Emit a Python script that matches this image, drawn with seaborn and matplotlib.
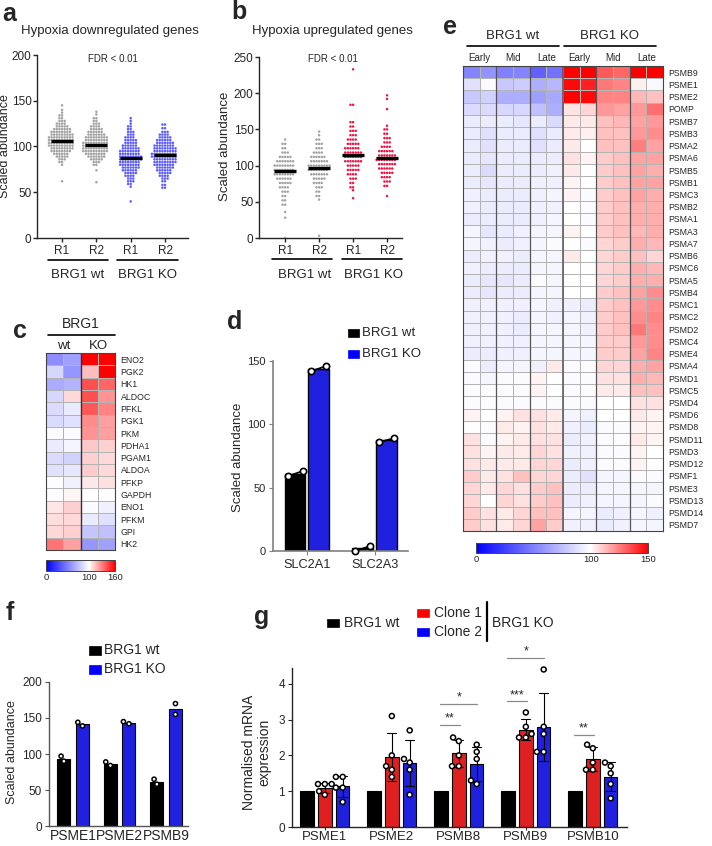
import numpy as np
import pandas as pd
import seaborn as sns
import matplotlib.pyplot as plt
from matplotlib.colors import LinearSegmentedColormap
from matplotlib.lines import Line2D
from matplotlib.patches import Rectangle

sns.set_style('ticks')
plt.rcParams['font.family'] = ['Liberation Sans', 'DejaVu Sans']
plt.rcParams['axes.linewidth'] = 1.0

# ---------------- data ----------------
rep_order = ['wt R1', 'wt R2', 'KO R1', 'KO R2']
rep_ticks = ['R1', 'R2', 'R1', 'R2']

# a: hypoxia downregulated genes (abundance level -> number of genes)
a_wt1_lv = [62, 80, 83, 86, 89, 92, 95, 98, 101, 104, 107, 110, 113, 116, 119, 122, 125, 128, 131, 134, 137, 140, 145]
a_wt1_n = [1, 1, 2, 3, 5, 6, 8, 9, 10, 10, 10, 10, 9, 8, 7, 5, 4, 3, 2, 2, 1, 1, 1]
a_wt2_lv = [61, 74, 80, 83, 86, 89, 92, 95, 98, 101, 104, 107, 110, 113, 116, 119, 122, 125, 128, 131, 135, 138]
a_wt2_n = [1, 1, 2, 3, 5, 7, 8, 10, 10, 10, 10, 9, 9, 7, 6, 5, 4, 3, 2, 2, 1, 1]
a_ko1_lv = [40, 56, 59, 62, 65, 68, 71, 74, 77, 80, 83, 86, 89, 92, 95, 98, 101, 104, 107, 110, 113, 116, 119, 122, 125, 128, 131]
a_ko1_n = [1, 1, 2, 3, 3, 4, 5, 6, 7, 8, 8, 9, 9, 8, 8, 7, 6, 5, 5, 4, 3, 3, 2, 2, 1, 1, 1]
a_ko2_lv = [55, 58, 62, 65, 68, 71, 74, 77, 80, 83, 86, 89, 92, 95, 98, 101, 104, 107, 110, 113, 116, 120, 124]
a_ko2_n = [2, 2, 2, 3, 4, 5, 6, 7, 8, 9, 9, 10, 10, 9, 9, 8, 7, 6, 5, 4, 3, 2, 2]
a_means = [106, 102, 87, 91]

# b: hypoxia upregulated genes
b_wt1_lv = [0, 28, 36, 46, 52, 58, 64, 70, 76, 82, 88, 94, 100, 106, 112, 118, 124, 130, 136]
b_wt1_n = [1, 1, 1, 2, 2, 2, 3, 4, 5, 6, 8, 8, 8, 7, 5, 3, 2, 2, 1]
b_wt2_lv = [3, 53, 58, 64, 70, 76, 82, 88, 94, 100, 106, 112, 118, 124, 130, 136, 142, 147]
b_wt2_n = [1, 1, 2, 2, 3, 4, 5, 7, 8, 9, 7, 6, 4, 3, 3, 2, 1, 1]
b_ko1_lv = [55, 66, 70, 76, 82, 88, 94, 100, 106, 112, 118, 124, 130, 136, 142, 148, 154, 160, 184, 233]
b_ko1_n = [1, 1, 2, 2, 3, 4, 5, 5, 7, 7, 7, 6, 5, 4, 3, 3, 2, 2, 2, 1]
b_ko2_lv = [58, 72, 78, 84, 90, 96, 102, 108, 114, 120, 126, 132, 138, 144, 150, 155, 178, 192, 197]
b_ko2_n = [1, 2, 3, 4, 5, 6, 7, 8, 7, 6, 4, 3, 3, 2, 2, 1, 1, 1, 1]
b_means = [92, 96, 114, 110]

# c: glycolysis heatmap (wt, wt, KO, KO)
c_genes = ['ENO2', 'PGK2', 'HK1', 'ALDOC', 'PFKL', 'PGK1', 'PKM', 'PDHA1', 'PGAM1',
           'ALDOA', 'PFKP', 'GAPDH', 'ENO1', 'PFKM', 'GPI', 'HK2']
c_vals = [[55, 63, 160, 160], [84, 59, 115, 160], [67, 70, 141, 136], [84, 109, 141, 125],
          [86, 92, 139, 129], [86, 88, 127, 122], [98, 98, 125, 122], [92, 96, 113, 111],
          [86, 82, 111, 109], [88, 90, 112, 109], [99, 94, 105, 107], [99, 102, 100, 100],
          [106, 111, 98, 94], [108, 109, 92, 88], [109, 111, 78, 75], [132, 122, 59, 63]]

# d: SLC2A1 / SLC2A3
d_genes = ['SLC2A1', 'SLC2A3']
d_wt = [[59, 63], [0, 4]]
d_ko = [[142, 146], [86, 89]]

# e: proteasome heatmap (wt Early/Mid/Late x2, KO Early/Mid/Late x2)
e_genes = ['PSMB9', 'PSME1', 'PSME2', 'POMP', 'PSMB7', 'PSMB3', 'PSMA2', 'PSMA6', 'PSMB5', 'PSMB1',
           'PSMC3', 'PSMB2', 'PSMA1', 'PSMA3', 'PSMA7', 'PSMB6', 'PSMC6', 'PSMA5', 'PSMB4', 'PSMC1',
           'PSMC2', 'PSMD2', 'PSMC4', 'PSME4', 'PSMA4', 'PSMD1', 'PSMC5', 'PSMD4', 'PSMD6', 'PSMD8',
           'PSMD11', 'PSMD3', 'PSMD12', 'PSMF1', 'PSME3', 'PSMD13', 'PSMD14', 'PSMD7']
e_vals = [
    [52, 58, 50, 52, 38, 45, 150, 150, 132, 130, 150, 150],
    [88, 98, 78, 80, 68, 72, 148, 143, 126, 124, 103, 97],
    [78, 82, 68, 68, 62, 66, 150, 148, 124, 124, 114, 112],
    [86, 86, 84, 84, 75, 68, 105, 108, 120, 118, 120, 128],
    [92, 92, 92, 90, 92, 86, 104, 104, 112, 114, 118, 120],
    [92, 88, 92, 92, 88, 92, 104, 103, 112, 112, 120, 122],
    [92, 88, 92, 92, 88, 92, 104, 100, 112, 112, 125, 118],
    [92, 90, 92, 92, 92, 92, 106, 102, 110, 112, 118, 118],
    [92, 86, 92, 92, 92, 94, 104, 100, 110, 112, 118, 116],
    [92, 90, 92, 92, 94, 94, 102, 100, 110, 112, 118, 118],
    [94, 92, 92, 92, 94, 96, 102, 98, 110, 112, 118, 116],
    [94, 92, 92, 92, 94, 94, 100, 98, 110, 112, 116, 116],
    [92, 92, 92, 92, 94, 96, 100, 98, 110, 112, 116, 116],
    [96, 90, 92, 94, 96, 96, 102, 100, 110, 112, 114, 116],
    [96, 94, 92, 94, 96, 98, 100, 98, 108, 110, 116, 114],
    [92, 94, 94, 92, 96, 96, 104, 100, 108, 110, 112, 108],
    [94, 92, 92, 92, 96, 96, 100, 100, 108, 110, 116, 114],
    [92, 90, 90, 92, 98, 96, 100, 100, 108, 110, 116, 116],
    [92, 90, 92, 92, 96, 96, 100, 100, 110, 112, 118, 122],
    [94, 94, 94, 94, 96, 94, 94, 92, 110, 112, 120, 122],
    [94, 94, 94, 92, 96, 94, 96, 94, 110, 112, 122, 124],
    [94, 94, 94, 92, 96, 96, 96, 94, 110, 112, 126, 122],
    [94, 94, 94, 94, 96, 96, 96, 96, 110, 110, 120, 122],
    [92, 92, 94, 94, 96, 96, 96, 96, 110, 110, 118, 124],
    [98, 92, 96, 96, 94, 104, 98, 98, 108, 108, 116, 118],
    [98, 96, 98, 98, 102, 100, 98, 98, 106, 106, 116, 114],
    [98, 98, 98, 98, 102, 100, 98, 98, 104, 104, 112, 112],
    [98, 98, 98, 98, 98, 98, 98, 98, 100, 100, 106, 106],
    [102, 100, 102, 106, 106, 104, 96, 94, 100, 100, 104, 102],
    [100, 98, 104, 102, 106, 104, 94, 92, 98, 98, 102, 102],
    [106, 98, 102, 104, 106, 106, 92, 94, 98, 98, 104, 102],
    [106, 102, 104, 104, 108, 106, 94, 94, 98, 98, 102, 100],
    [106, 104, 104, 104, 108, 108, 92, 94, 98, 98, 102, 100],
    [110, 104, 106, 112, 108, 108, 92, 88, 96, 96, 98, 98],
    [108, 104, 108, 106, 110, 112, 92, 92, 96, 96, 96, 96],
    [108, 100, 108, 106, 110, 112, 92, 94, 96, 96, 96, 98],
    [110, 106, 104, 108, 112, 112, 96, 96, 92, 94, 96, 94],
    [110, 106, 104, 108, 118, 110, 94, 94, 92, 94, 96, 96],
]

# f: immunoproteasome proteins
f_genes = ['PSME1', 'PSME2', 'PSMB9']
f_wt = [[97, 90], [84, 89], [65, 58]]
f_ko = [[139, 144], [142, 145], [170, 155]]

# g: qPCR
g_genes = ['PSME1', 'PSME2', 'PSMB8', 'PSMB9', 'PSMB10']
g_wt = [1.0, 1.0, 1.0, 1.0, 1.0]
g_clone1 = [[1.2, 1.2, 1.2, 1.0, 0.9], [3.1, 2.0, 1.7, 1.6, 1.4], [2.5, 2.4, 2.0, 1.7, 1.7],
            [3.2, 2.8, 2.6, 2.5, 2.5], [2.3, 2.2, 1.8, 1.6, 1.6]]
g_clone2 = [[1.4, 1.4, 1.1, 1.1, 0.7], [2.7, 1.9, 1.8, 1.6, 0.9], [2.3, 2.1, 1.9, 1.3, 1.2],
            [4.4, 2.8, 2.6, 2.1, 2.1], [1.8, 1.7, 1.5, 1.2, 0.8]]
g_sig_gene = [2, 2, 3, 3, 4]
g_sig_clone = [1, 2, 1, 2, 1]
g_sig_y = [2.86, 3.44, 3.52, 4.73, 2.58]
g_sig_lab = ['**', '*', '***', '*', '**']

groups2 = ['BRG1 wt', 'BRG1 KO']
groups3 = ['BRG1 wt', 'Clone 1', 'Clone 2']
GRAY, LBLUE, CRIMSON = '#a3a3a3', '#5b5bff', '#ee1446'

# ---------------- layout helpers (pixel coords, top-left origin) ----------------
W, H = 712, 846
fig = plt.figure(figsize=(W / 100, H / 100), dpi=100)


def add_ax(l, t, r, b):
    return fig.add_axes([l / W, 1 - b / H, (r - l) / W, (b - t) / H])


def ftext(x, y, s, size=9.5, ha='center', **kw):
    fig.text(x / W, 1 - y / H, s, fontsize=size, ha=ha, va='center', **kw)


def fline(xs, ys, color='black', lw=1.2):
    fig.add_artist(Line2D([x / W for x in xs], [1 - y / H for y in ys], color=color, lw=lw))


def fsquare(x, y, color, w=12, h=8):
    fig.add_artist(Rectangle(((x - w / 2) / W, 1 - (y + h / 2) / H), w / W, h / H,
                             facecolor=color, edgecolor=color, lw=0.5))


def swarm_frame(levels, counts):
    parts = [pd.DataFrame({'rep': r, 'value': np.repeat(lv, n)})
             for r, lv, n in zip(rep_order, levels, counts)]
    return pd.concat(parts, ignore_index=True)


def swarm_panel(ax, df, colors, means, ymax, xlim):
    sns.swarmplot(data=df, x='rep', y='value', hue='rep', order=rep_order, hue_order=rep_order,
                  palette=dict(zip(rep_order, colors)), size=1.8, linewidth=0, legend=False,
                  warn_thresh=1, ax=ax)
    ax.hlines(means, np.arange(4) - 0.32, np.arange(4) + 0.32, color='black', lw=2.4, zorder=5)
    ax.set_ylim(0, ymax)
    ax.set_yticks(np.arange(0, ymax + 1, 50))
    ax.set_xlim(*xlim)
    ax.set_xticks(range(4))
    ax.set_xticklabels(rep_ticks)
    ax.set_xlabel('')
    ax.set_ylabel('')
    ax.tick_params(axis='y', labelsize=8.5, length=3, width=1, pad=1)
    ax.tick_params(axis='x', labelsize=8.5, length=3, width=1, pad=2)
    sns.despine(ax=ax)


def long_frame(genes, named_reps):
    rows = []
    for i, g in enumerate(genes):
        for grp, reps in named_reps:
            vals = reps[i] if np.ndim(reps[i]) else [reps[i]]
            rows += [(g, grp, v) for v in vals]
    return pd.DataFrame(rows, columns=['gene', 'group', 'value'])


def heat_panel(ax, cax, vals, genes, vmax, ticks):
    cmap = LinearSegmentedColormap.from_list('bwr_', [(0, 'blue'), (100 / vmax, 'white'), (1, 'red')])
    sns.heatmap(pd.DataFrame(vals, index=genes), ax=ax, cmap=cmap, vmin=0, vmax=vmax,
                linewidths=0.4, linecolor='#b4b4b4', xticklabels=False, yticklabels=genes,
                cbar_ax=cax, cbar_kws={'orientation': 'horizontal', 'ticks': ticks})
    ax.yaxis.tick_right()
    ax.tick_params(axis='y', length=0, labelsize=6.3, pad=4, labelrotation=0)
    for s in ax.spines.values():
        s.set_visible(True)
        s.set_color('#444444')
        s.set_linewidth(0.8)
    cb = ax.collections[0].colorbar
    cb.outline.set_linewidth(0.7)
    cb.outline.set_edgecolor('#444444')
    cax.tick_params(labelsize=6.8, length=0, pad=1.5)


# ---------------- a ----------------
ax_a = add_ax(37, 55, 188, 238)
df_a = swarm_frame([a_wt1_lv, a_wt2_lv, a_ko1_lv, a_ko2_lv], [a_wt1_n, a_wt2_n, a_ko1_n, a_ko2_n])
swarm_panel(ax_a, df_a, [GRAY, GRAY, LBLUE, LBLUE], a_means, 200, (-0.73, 3.67))
ftext(9, 14, 'a', size=18, weight='bold')
ftext(110, 31, 'Hypoxia downregulated genes', size=9.5)
ftext(113, 59, 'FDR < 0.01', size=7)
ftext(5.5, 146, 'Scaled abundance', size=9, rotation=90)
fline([48, 108], [260, 260])
fline([117, 178], [260, 260])
ftext(78, 275, 'BRG1 wt', size=9.5)
ftext(148, 275, 'BRG1 KO', size=9.5)

# ---------------- b ----------------
ax_b = add_ax(259, 57, 402, 238)
df_b = swarm_frame([b_wt1_lv, b_wt2_lv, b_ko1_lv, b_ko2_lv], [b_wt1_n, b_wt2_n, b_ko1_n, b_ko2_n])
swarm_panel(ax_b, df_b, [GRAY, GRAY, CRIMSON, CRIMSON], b_means, 250, (-0.77, 3.44))
ftext(239, 12, 'b', size=18, weight='bold')
ftext(332, 31, 'Hypoxia upregulated genes', size=9.5)
ftext(333, 59, 'FDR < 0.01', size=7)
ftext(225, 146, 'Scaled abundance', size=9.5, rotation=90)
fline([272, 332], [259, 259])
fline([342, 402], [259, 259])
ftext(305, 275, 'BRG1 wt', size=9.5)
ftext(374, 275, 'BRG1 KO', size=9.5)

# ---------------- c ----------------
ax_c = add_ax(46, 353, 115, 550)
cax_c = add_ax(46, 560, 115, 571)
heat_panel(ax_c, cax_c, c_vals, c_genes, 160, [0, 100, 160])
ax_c.axvline(2, color='#333333', lw=1.0)
ftext(20, 331, 'c', size=18, weight='bold')
ftext(81, 324, 'BRG1', size=10)
fline([48, 115], [335, 335])
ftext(64, 346, 'wt', size=9.5)
ftext(98, 346, 'KO', size=9.5)

# ---------------- d ----------------
ax_d = add_ax(273, 361, 408, 551)
df_d = long_frame(d_genes, [('BRG1 wt', d_wt), ('BRG1 KO', d_ko)])
sns.barplot(data=df_d, x='gene', y='value', hue='group', hue_order=groups2,
            palette={'BRG1 wt': 'black', 'BRG1 KO': 'blue'}, errorbar=None, width=0.7, gap=0.12,
            edgecolor='black', linewidth=1, legend=False, ax=ax_d)
for i, (w, k) in enumerate(zip(d_wt, d_ko)):
    for off, reps in ((-0.175, w), (0.175, k)):
        ax_d.plot([i + off - 0.11, i + off + 0.11], reps, color='black', lw=1.3, marker='o', ms=4.5,
                  mfc='white', mec='black', mew=1.2, zorder=5, clip_on=False)
ax_d.set_ylim(0, 150)
ax_d.set_yticks([0, 50, 100, 150])
ax_d.set_xlim(-0.5, 1.49)
ax_d.set_xlabel('')
ax_d.set_ylabel('')
sns.despine(ax=ax_d)
for s in ('left', 'bottom'):
    ax_d.spines[s].set_color('#808080')
    ax_d.spines[s].set_linewidth(1.2)
ax_d.tick_params(axis='y', labelsize=8, length=3, color='#808080', pad=2)
ax_d.tick_params(axis='x', labelsize=9.2, length=3, color='#808080', pad=3)
ftext(235, 322, 'd', size=18, weight='bold')
ftext(238, 457, 'Scaled abundance', size=9.5, rotation=90)
fsquare(353, 333, 'black', 11, 8)
fsquare(353, 354, 'blue', 11, 8)
ftext(362, 333, 'BRG1 wt', size=9.5, ha='left')
ftext(362, 354, 'BRG1 KO', size=9.5, ha='left')

# ---------------- e ----------------
ax_e = add_ax(463, 66, 663, 531)
cax_e = add_ax(476, 543, 648, 553)
heat_panel(ax_e, cax_e, e_vals, e_genes, 150, [0, 100, 150])
for xv in (2, 4, 8, 10):
    ax_e.axvline(xv, color='#555555', lw=0.9)
ax_e.axvline(6, color='#555555', lw=1.1)
ftext(450, 27, 'e', size=18, weight='bold')
ftext(513, 36, 'BRG1 wt', size=9.5)
ftext(610, 36, 'BRG1 KO', size=9.5)
fline([467, 559], [46, 46])
fline([564, 656], [46, 46])
for j, lab in enumerate(['Early', 'Mid', 'Late'] * 2):
    ftext(463 + 200 / 6 * (j + 0.5), 58, lab, size=7)

# ---------------- f ----------------
ax_f = add_ax(49, 682, 188, 826)
df_f = long_frame(f_genes, [('BRG1 wt', f_wt), ('BRG1 KO', f_ko)])
sns.barplot(data=df_f, x='gene', y='value', hue='group', hue_order=groups2,
            palette={'BRG1 wt': 'black', 'BRG1 KO': 'blue'}, errorbar=None, width=0.8, gap=0.3,
            edgecolor='black', linewidth=0.8, legend=False, ax=ax_f)
sns.swarmplot(data=df_f, x='gene', y='value', hue='group', hue_order=groups2, dodge=True,
              palette={g: 'white' for g in groups2}, edgecolor='black', linewidth=1.1, size=3.0,
              legend=False, ax=ax_f)
ax_f.set_ylim(0, 200)
ax_f.set_yticks([0, 50, 100, 150, 200])
ax_f.set_xlim(-0.52, 2.47)
ax_f.set_xlabel('')
ax_f.set_ylabel('')
sns.despine(ax=ax_f)
for s in ('left', 'bottom'):
    ax_f.spines[s].set_color('#555555')
ax_f.tick_params(axis='y', labelsize=8.5, length=3, color='#555555', pad=2)
ax_f.tick_params(axis='x', labelsize=10, length=0, pad=2)
ftext(10, 613, 'f', size=18, weight='bold')
ftext(12, 752, 'Scaled abundance', size=9, rotation=90)
fsquare(95, 650, 'black', 12, 9)
fsquare(95, 669, 'blue', 12, 9)
ftext(104, 650, 'BRG1 wt', size=10, ha='left')
ftext(104, 669, 'BRG1 KO', size=10, ha='left')

# ---------------- g ----------------
ax_g = add_ax(292, 648, 627, 827)
df_g = long_frame(g_genes, [('BRG1 wt', g_wt), ('Clone 1', g_clone1), ('Clone 2', g_clone2)])
pal3 = {'BRG1 wt': 'black', 'Clone 1': 'red', 'Clone 2': 'blue'}
sns.barplot(data=df_g, x='gene', y='value', hue='group', hue_order=groups3, order=g_genes,
            palette=pal3, errorbar='sd', capsize=0.4, err_kws={'color': 'black', 'linewidth': 0.8},
            width=0.8, gap=0.25, edgecolor='black', linewidth=0.8, legend=False, ax=ax_g)
sns.swarmplot(data=df_g[df_g['group'] != 'BRG1 wt'], x='gene', y='value', hue='group',
              hue_order=groups3, order=g_genes, dodge=True, palette={g: 'white' for g in groups3},
              edgecolor='black', linewidth=1.1, size=3.6, legend=False, warn_thresh=1, ax=ax_g)
slot = 0.8 / 3
for gi, cl, yv, lab in zip(g_sig_gene, g_sig_clone, g_sig_y, g_sig_lab):
    x0, x1 = gi - slot - 0.01, gi + (cl - 1) * slot + 0.01
    ax_g.plot([x0, x1], [yv, yv], color='#8a8a8a', lw=0.9, clip_on=False)
    ax_g.text((x0 + x1) / 2, yv, lab, ha='center', va='bottom', fontsize=9)
ax_g.set_ylim(0, 5)
ax_g.set_yticks([0, 1, 2, 3, 4])
ax_g.set_xlim(-0.49, 4.51)
ax_g.set_xlabel('')
ax_g.set_ylabel('')
sns.despine(ax=ax_g)
ax_g.spines['left'].set_bounds(0, 4.45)
ax_g.tick_params(axis='y', labelsize=8.5, length=3, pad=2)
ax_g.tick_params(axis='x', labelsize=9.5, length=2, pad=1)
ftext(262, 617, 'g', size=18, weight='bold')
ftext(257, 752, 'Normalised mRNA\nexpression', size=10, rotation=90, linespacing=1.1)
fsquare(333, 623, 'black', 12, 8)
ftext(344, 623, 'BRG1 wt', size=10, ha='left')
fsquare(423, 613, 'red', 12, 8)
ftext(434, 613, 'Clone 1', size=10, ha='left')
fsquare(423, 632, 'blue', 12, 8)
ftext(434, 632, 'Clone 2', size=10, ha='left')
fline([487, 487], [602, 641], lw=1.6)
ftext(492, 623, 'BRG1 KO', size=10, ha='left')

fig.savefig('out.png', dpi=100)
